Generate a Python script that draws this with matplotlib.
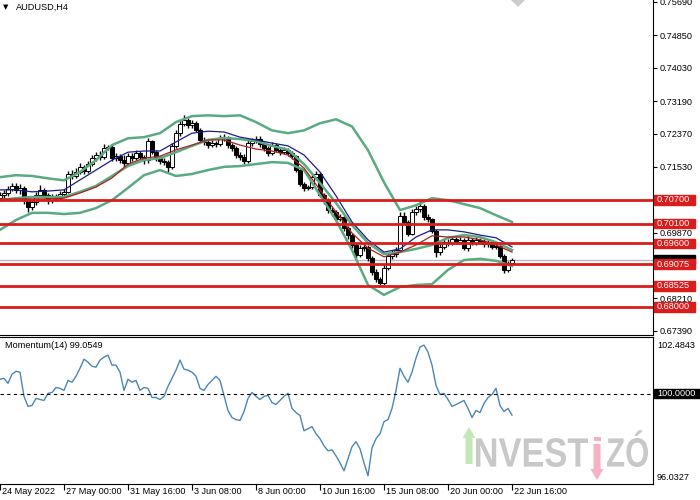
import numpy as np
import matplotlib.pyplot as plt
import matplotlib.transforms as mtransforms
from matplotlib.patches import Rectangle, FancyArrow, PathPatch, Polygon
from matplotlib.textpath import TextPath
from matplotlib.font_manager import FontProperties

plt.rcParams['font.family'] = ['Liberation Sans', 'DejaVu Sans']

# AUDUSD H4 candles, 24 May 08:00 .. 22 Jun
opens = [0.7075, 0.7082, 0.7087, 0.7097, 0.7105, 0.7095, 0.7100, 0.7069, 0.7052, 0.7064,
         0.7082, 0.7095, 0.7082, 0.7069, 0.7077, 0.7074, 0.7085, 0.7090, 0.7135, 0.7130,
         0.7140, 0.7153, 0.7143, 0.7160, 0.7175, 0.7183, 0.7178, 0.7201, 0.7203, 0.7175,
         0.7180, 0.7170, 0.7163, 0.7180, 0.7175, 0.7188, 0.7178, 0.7170, 0.7218, 0.7191,
         0.7175, 0.7168, 0.7165, 0.7153, 0.7206, 0.7238, 0.7261, 0.7271, 0.7259, 0.7264,
         0.7246, 0.7221, 0.7216, 0.7208, 0.7213, 0.7211, 0.7226, 0.7228, 0.7208, 0.7201,
         0.7183, 0.7178, 0.7168, 0.7213, 0.7218, 0.7223, 0.7211, 0.7201, 0.7188, 0.7208,
         0.7196, 0.7191, 0.7196, 0.7188, 0.7180, 0.7145, 0.7110, 0.7100, 0.7102, 0.7127,
         0.7135, 0.7082, 0.7069, 0.7044, 0.7039, 0.7021, 0.7026, 0.6999, 0.6981, 0.6956,
         0.6931, 0.6948, 0.6951, 0.6923, 0.6888, 0.6870, 0.6860, 0.6898, 0.6928, 0.6933,
         0.6943, 0.7029, 0.7014, 0.6984, 0.7039, 0.7047, 0.7054, 0.7026, 0.7021, 0.6991,
         0.6938, 0.6951, 0.6963, 0.6961, 0.6971, 0.6963, 0.6968, 0.6948, 0.6968, 0.6961,
         0.6968, 0.6966, 0.6958, 0.6963, 0.6951, 0.6953, 0.6928, 0.6893, 0.6910]
highs = [0.7090, 0.7095, 0.7104, 0.7113, 0.7112, 0.7110, 0.7104, 0.7075, 0.7070, 0.7090,
         0.7106, 0.7100, 0.7087, 0.7085, 0.7084, 0.7092, 0.7098, 0.7142, 0.7145, 0.7150,
         0.7163, 0.7158, 0.7168, 0.7184, 0.7190, 0.7192, 0.7210, 0.7208, 0.7207, 0.7188,
         0.7186, 0.7183, 0.7188, 0.7187, 0.7195, 0.7192, 0.7184, 0.7226, 0.7222, 0.7196,
         0.7180, 0.7175, 0.7170, 0.7212, 0.7245, 0.7270, 0.7283, 0.7276, 0.7272, 0.7268,
         0.7250, 0.7228, 0.7222, 0.7220, 0.7218, 0.7233, 0.7236, 0.7232, 0.7214, 0.7206,
         0.7190, 0.7185, 0.7220, 0.7226, 0.7232, 0.7230, 0.7216, 0.7206, 0.7216, 0.7212,
         0.7202, 0.7204, 0.7200, 0.7192, 0.7184, 0.7150, 0.7116, 0.7108, 0.7133, 0.7142,
         0.7140, 0.7088, 0.7074, 0.7052, 0.7045, 0.7034, 0.7030, 0.7004, 0.6986, 0.6962,
         0.6956, 0.6960, 0.6956, 0.6928, 0.6895, 0.6876, 0.6905, 0.6935, 0.6942, 0.6952,
         0.7038, 0.7040, 0.7020, 0.7046, 0.7055, 0.7070, 0.7060, 0.7034, 0.7025, 0.6995,
         0.6960, 0.6970, 0.6970, 0.6978, 0.6976, 0.6976, 0.6973, 0.6982, 0.6974, 0.6975,
         0.6974, 0.6972, 0.6971, 0.6968, 0.6962, 0.6958, 0.6932, 0.6916, 0.6922]
lows = [0.7068, 0.7075, 0.7080, 0.7092, 0.7088, 0.7085, 0.7060, 0.7040, 0.7045, 0.7058,
        0.7077, 0.7075, 0.7060, 0.7062, 0.7066, 0.7069, 0.7080, 0.7086, 0.7122, 0.7124,
        0.7135, 0.7136, 0.7138, 0.7155, 0.7168, 0.7170, 0.7172, 0.7195, 0.7168, 0.7168,
        0.7162, 0.7152, 0.7158, 0.7168, 0.7170, 0.7172, 0.7160, 0.7163, 0.7185, 0.7168,
        0.7160, 0.7158, 0.7140, 0.7148, 0.7200, 0.7232, 0.7255, 0.7252, 0.7250, 0.7240,
        0.7215, 0.7208, 0.7200, 0.7202, 0.7204, 0.7206, 0.7218, 0.7200, 0.7194, 0.7176,
        0.7170, 0.7160, 0.7163, 0.7206, 0.7212, 0.7204, 0.7194, 0.7180, 0.7183, 0.7190,
        0.7184, 0.7186, 0.7181, 0.7172, 0.7140, 0.7104, 0.7092, 0.7095, 0.7098, 0.7120,
        0.7076, 0.7060, 0.7036, 0.7030, 0.7014, 0.7016, 0.6990, 0.6972, 0.6948, 0.6922,
        0.6925, 0.6940, 0.6915, 0.6880, 0.6862, 0.6852, 0.6855, 0.6892, 0.6920, 0.6926,
        0.6938, 0.7008, 0.6978, 0.6980, 0.7032, 0.7040, 0.7020, 0.7014, 0.6985, 0.6925,
        0.6930, 0.6945, 0.6954, 0.6956, 0.6958, 0.6958, 0.6942, 0.6940, 0.6955, 0.6956,
        0.6959, 0.6952, 0.6950, 0.6945, 0.6946, 0.6922, 0.6886, 0.6888, 0.6906]
closes = [0.7082, 0.7087, 0.7097, 0.7105, 0.7095, 0.7100, 0.7069, 0.7052, 0.7064, 0.7082,
          0.7095, 0.7082, 0.7069, 0.7077, 0.7074, 0.7085, 0.7090, 0.7135, 0.7130, 0.7140,
          0.7153, 0.7143, 0.7160, 0.7175, 0.7183, 0.7178, 0.7201, 0.7203, 0.7175, 0.7180,
          0.7170, 0.7163, 0.7180, 0.7175, 0.7188, 0.7178, 0.7170, 0.7218, 0.7191, 0.7175,
          0.7168, 0.7165, 0.7153, 0.7206, 0.7238, 0.7261, 0.7271, 0.7259, 0.7264, 0.7246,
          0.7221, 0.7216, 0.7208, 0.7213, 0.7211, 0.7226, 0.7228, 0.7208, 0.7201, 0.7183,
          0.7178, 0.7168, 0.7213, 0.7218, 0.7223, 0.7211, 0.7201, 0.7188, 0.7208, 0.7196,
          0.7191, 0.7196, 0.7188, 0.7180, 0.7145, 0.7110, 0.7100, 0.7102, 0.7127, 0.7135,
          0.7082, 0.7069, 0.7044, 0.7039, 0.7021, 0.7026, 0.6999, 0.6981, 0.6956, 0.6931,
          0.6948, 0.6951, 0.6923, 0.6888, 0.6870, 0.6860, 0.6898, 0.6928, 0.6933, 0.6943,
          0.7029, 0.7014, 0.6984, 0.7039, 0.7047, 0.7054, 0.7026, 0.7021, 0.6991, 0.6938,
          0.6951, 0.6963, 0.6961, 0.6971, 0.6963, 0.6968, 0.6948, 0.6968, 0.6961, 0.6968,
          0.6966, 0.6958, 0.6963, 0.6951, 0.6953, 0.6928, 0.6893, 0.6910, 0.6918]

# indicator lines read every 4th bar
ind_bars = list(range(0, 129, 4))
bb_upper = [0.7127, 0.7132, 0.7130, 0.7124, 0.7119, 0.7140, 0.7170, 0.7208, 0.7225, 0.7228,
            0.7238, 0.7266, 0.7281, 0.7283, 0.7281, 0.7283, 0.7266, 0.7245, 0.7238, 0.7245,
            0.7263, 0.7273, 0.7255, 0.7195, 0.7114, 0.7044, 0.7056, 0.7074, 0.7069, 0.7059,
            0.7049, 0.7031, 0.7014]
bb_mid = [0.7069, 0.7074, 0.7077, 0.7077, 0.7077, 0.7090, 0.7105, 0.7130, 0.7155, 0.7170,
          0.7175, 0.7190, 0.7206, 0.7221, 0.7226, 0.7223, 0.7218, 0.7206, 0.7196, 0.7160,
          0.7112, 0.7062, 0.7006, 0.6961, 0.6933, 0.6938, 0.6946, 0.6956, 0.6974, 0.6981,
          0.6976, 0.6963, 0.6943]
bb_lower = [0.6994, 0.7019, 0.7037, 0.7037, 0.7034, 0.7037, 0.7049, 0.7069, 0.7100, 0.7132,
            0.7145, 0.7130, 0.7135, 0.7145, 0.7153, 0.7155, 0.7160, 0.7165, 0.7163, 0.7145,
            0.7082, 0.7019, 0.6943, 0.6855, 0.6830, 0.6850, 0.6855, 0.6857, 0.6893, 0.6918,
            0.6921, 0.6916, 0.6903]
ma_blue = [0.7095, 0.7095, 0.7090, 0.7092, 0.7095, 0.7120, 0.7145, 0.7170, 0.7190, 0.7193,
           0.7193, 0.7216, 0.7238, 0.7243, 0.7241, 0.7228, 0.7221, 0.7213, 0.7206, 0.7183,
           0.7140, 0.7080, 0.7014, 0.6969, 0.6938, 0.6946, 0.6976, 0.6994, 0.6994, 0.6989,
           0.6981, 0.6974, 0.6951]
ma_red = [0.7072, 0.7072, 0.7072, 0.7072, 0.7074, 0.7087, 0.7102, 0.7125, 0.7160, 0.7175,
          0.7180, 0.7196, 0.7208, 0.7221, 0.7221, 0.7208, 0.7198, 0.7193, 0.7183, 0.7150,
          0.7095, 0.7039, 0.6986, 0.6948, 0.6926, 0.6938, 0.6956, 0.6979, 0.6976, 0.6976,
          0.6969, 0.6956, 0.6938]

levels = [0.70700, 0.70100, 0.69600, 0.69075, 0.68525, 0.68000]
price_ticks = [0.75690, 0.74850, 0.74030, 0.73190, 0.72370, 0.71530, 0.69870, 0.68210, 0.67390]

momentum = [100.63, 100.67, 100.45, 100.85, 100.98, 100.94, 99.88, 99.44, 99.48, 99.79,
            99.74, 99.70, 100.01, 100.05, 100.27, 100.23, 100.14, 100.58, 100.50, 100.76,
            101.11, 101.51, 101.38, 101.20, 101.16, 101.47, 101.60, 101.69, 101.25, 101.25,
            100.94, 100.14, 100.63, 100.50, 100.58, 100.14, 100.27, 100.23, 99.83, 99.83,
            99.74, 99.88, 100.32, 100.67, 101.03, 101.47, 101.07, 101.03, 100.94, 100.76,
            100.23, 100.14, 100.40, 100.58, 100.76, 100.58, 99.92, 99.26, 98.95, 98.86,
            98.82, 99.21, 99.79, 100.05, 99.88, 99.74, 99.88, 99.92, 99.61, 99.52,
            99.70, 99.88, 100.01, 99.35, 99.17, 99.04, 98.37, 98.46, 98.55, 98.24,
            98.02, 97.71, 97.49, 97.53, 97.27, 96.96, 96.61, 97.14, 97.67, 97.89,
            97.58, 96.96, 96.39, 97.62, 98.02, 98.24, 98.77, 98.86, 99.35, 100.14,
            101.11, 100.76, 100.50, 100.94, 101.56, 102.04, 102.13, 101.82, 101.25, 100.36,
            99.96, 100.01, 99.74, 99.44, 99.52, 99.61, 99.70, 99.35, 98.95, 99.26,
            99.17, 99.57, 99.83, 99.96, 100.23, 99.48, 99.21, 99.35, 99.0549]

time_labels = ['24 May 2022', '27 May 00:00', '31 May 16:00', '3 Jun 08:00', '8 Jun 00:00',
               '10 Jun 16:00', '15 Jun 08:00', '20 Jun 00:00', '22 Jun 16:00']

RED = '#d91c1c'
GREEN = '#5aaa82'
FS = 6.6

fig = plt.figure(figsize=(7, 5), dpi=100)
ax = fig.add_axes([0, 1 - 335 / 500, 653 / 700, 335 / 500])
ax2 = fig.add_axes([0, 1 - 484 / 500, 653 / 700, 147 / 500])

x = np.arange(len(closes))
o = np.array(opens)
c = np.array(closes)
up = c >= o

# candles
ax.vlines(x, lows, highs, color='black', lw=1, zorder=2)
ax.bar(x, np.maximum(np.abs(c - o), 0.00008), bottom=np.minimum(o, c), width=0.78,
       color=np.where(up, 'white', 'black'), edgecolor='black', linewidth=0.7, zorder=3)

# bollinger + moving averages
ax.plot(ind_bars, bb_upper, color=GREEN, lw=1.8, zorder=4)
ax.plot(ind_bars, bb_mid, color=GREEN, lw=1.8, zorder=4)
ax.plot(ind_bars, bb_lower, color=GREEN, lw=1.8, zorder=4)
ax.plot(ind_bars, ma_blue, color='#1c1c8a', lw=0.9, zorder=4)
ax.plot(ind_bars, ma_red, color='#b02020', lw=0.9, zorder=4)

# bid line
ax.axhline(closes[-1], color='#b8b8b8', lw=1, zorder=1)

for lv in levels:
    ax.axhline(lv, color=RED, lw=2, zorder=5)

ax.set_xlim(0, 163.25)
ax.set_ylim(0.67288, 0.7574)
ax.set_xticks([])
ax.yaxis.tick_right()
ax.set_yticks(price_ticks)
ax.set_yticklabels(['%.5f' % v for v in price_ticks])
ax.tick_params(axis='y', length=3, pad=2, labelsize=FS, width=0.8)
for s in ['top', 'left']:
    ax.spines[s].set_visible(False)

# price labels on the right axis
tr = mtransforms.blended_transform_factory(fig.transFigure, ax.transData)
h = 9.5 * (0.7574 - 0.67288) / 335
ax.add_patch(Rectangle((654 / 700, closes[-1] + 0.0001 - h / 2), 41 / 700, h, transform=tr,
                       color='black', clip_on=False, zorder=9))
for lv in levels:
    ax.add_patch(Rectangle((654 / 700, lv - h / 2), 41 / 700, h, transform=tr,
                           color=RED, clip_on=False, zorder=10))
    ax.text(657 / 700, lv, '%.5f' % lv, transform=tr, color='white', fontsize=FS,
            va='center', ha='left', zorder=11, clip_on=False)

# momentum panel
ax2.plot(x, momentum, color='#4a86b8', lw=1)
ax2.axhline(100, color='black', lw=0.8, ls=(0, (3, 3)))
ax2.set_xlim(0, 163.25)
ax2.set_ylim(96.0327, 102.4843)
ax2.set_yticks([])
ax2.spines['left'].set_visible(False)
ticks = list(range(0, 129, 16))
ax2.set_xticks(ticks)
ax2.set_xticklabels([])
ax2.tick_params(axis='x', length=4, width=0.8)
trx = mtransforms.blended_transform_factory(ax2.transData, ax2.transAxes)
for t, lab in zip(ticks, time_labels):
    ax2.text(t + 0.5, -8 / 147, lab, transform=trx, fontsize=FS, ha='left', va='center')

tr2 = mtransforms.blended_transform_factory(fig.transFigure, ax2.transData)
h2 = 9 * (102.4843 - 96.0327) / 147
ax2.add_patch(Rectangle((654 / 700, 100 - h2 / 2), 46 / 700, h2, transform=tr2,
                        color='black', clip_on=False, zorder=10))
ax2.text(657 / 700, 100, '100.0000', transform=tr2, color='white', fontsize=FS,
         va='center', ha='left', zorder=11, clip_on=False)
fig.text(657 / 700, 1 - 345 / 500, '102.4843', fontsize=FS, va='center', ha='left')
fig.text(657 / 700, 1 - 477 / 500, '96.0327', fontsize=FS, va='center', ha='left')

fig.text(3 / 700, 1 - 7 / 500, '\u25bc', fontsize=5, va='center', ha='left', family='DejaVu Sans')
fig.text(16 / 700, 1 - 7 / 500, 'AUDUSD,H4', fontsize=FS, va='center', ha='left')
fig.text(5 / 700, 1 - 345 / 500, 'Momentum(14) 99.0549', fontsize=FS, va='center', ha='left')

# watermark
ident = mtransforms.IdentityTransform()
fp = FontProperties(family='Liberation Sans', weight='bold')


def word(s, ref, x0, y_base, w, hgt):
    ext = TextPath((0, 0), ref, size=1, prop=fp).get_extents()
    path = TextPath((0, 0), s, size=1, prop=fp)
    t = mtransforms.Affine2D().translate(-ext.x0, -ext.y0).scale(w / ext.width, hgt / ext.height)
    t = t.translate(x0, 500 - y_base)
    fig.add_artist(PathPatch(path, transform=t, fc='#c8c8c8', ec='none'))


word('NVEST', 'NVEST', 476, 467, 112, 29)
word('Z\u00d3', 'ZO', 607, 467, 41, 29)
fig.add_artist(FancyArrow(469, 500 - 464, 0, 37, width=7, head_width=13, head_length=11,
                          length_includes_head=True, fc='#c2e8b8', ec='none', transform=ident))
fig.add_artist(FancyArrow(597, 500 - 444, 0, -36, width=7, head_width=13, head_length=11,
                          length_includes_head=True, fc='#f4b2c2', ec='none', transform=ident))
fig.add_artist(Rectangle((593.5, 500 - 441), 7, 4, fc='#f4b2c2', ec='none', transform=ident))
fig.add_artist(Polygon([[511, 500], [518, 493], [525, 500]], fc='#cccccc', ec='none', transform=ident))

fig.savefig('out.png', dpi=100)
